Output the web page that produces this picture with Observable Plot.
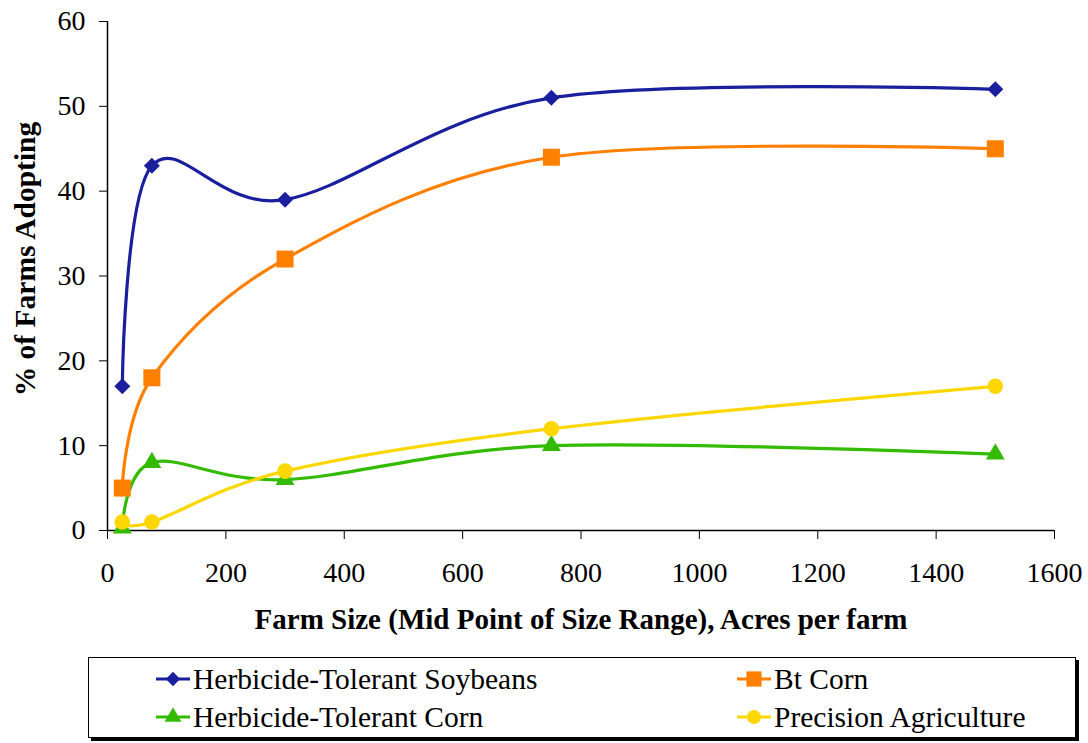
<!DOCTYPE html>
<html style="font-family:'Liberation Serif','Times New Roman',serif"><head><meta charset="utf-8">
<script src="https://cdn.jsdelivr.net/npm/d3@7"></script>
<script src="https://cdn.jsdelivr.net/npm/@observablehq/plot@0.6"></script>
</head><body style="margin:0;background:#fff;font-family:'Liberation Serif','Times New Roman',serif">
<div id="chart"></div>
<div id="legend" style="position:absolute;left:88px;top:657px;width:988px;height:81px;border:1.5px solid #000;box-shadow:3px 3px 0 #000;background:#fff;box-sizing:border-box;font-family:'Liberation Serif','Times New Roman',serif"></div>
<script>
const farmSize = [25, 75, 300, 750, 1500];
const seriesNames = ["Herbicide-Tolerant Soybeans", "Bt Corn", "Herbicide-Tolerant Corn", "Precision Agriculture"];
const soybeans = [17, 43, 39, 51, 52];
const btCorn = [5, 18, 32, 44, 45];
const htCorn = [0.3, 8, 6, 10, 9];
const precision = [1, 1, 7, 12, 17];
const colors = ["#1a1f9e", "#ff8000", "#33bb00", "#ffd700"];
const symbols = ["diamond2", "square", "triangle", "circle"];
const symbolSizes = [7.2, 9.6, 7, 7.8];
const xTicks = [0, 200, 400, 600, 800, 1000, 1200, 1400, 1600];
const yTicks = [0, 10, 20, 30, 40, 50, 60];
const xLabel = "Farm Size (Mid Point of Size Range), Acres per farm";
const yLabel = "% of Farms Adopting";
const FONT = "'Liberation Serif', 'Times New Roman', serif";

const allValues = [soybeans, btCorn, htCorn, precision];
const data = [];
allValues.forEach((vals, i) => vals.forEach((v, j) => data.push({series: seriesNames[i], x: farmSize[j], y: v})));

const marks = [];
seriesNames.forEach((s, i) => {
  const d = data.filter(r => r.series === s);
  marks.push(Plot.line(d, {x: "x", y: "y", stroke: colors[i], strokeWidth: 3.2, curve: "cardinal"}));
});
seriesNames.forEach((s, i) => {
  const d = data.filter(r => r.series === s);
  marks.push(Plot.dot(d, {x: "x", y: "y", fill: colors[i], stroke: "none", symbol: () => symbols[i], r: symbolSizes[i]}));
});

const chart = Plot.plot({
  width: 1088, height: 645,
  marginLeft: 107, marginRight: 34, marginTop: 21, marginBottom: 115,
  style: {background: "#fff", overflow: "visible", fontFamily: "Liberation Serif", fontSize: "28px", color: "#000"},
  x: {domain: [0, 1600], ticks: xTicks},
  y: {domain: [0, 60], ticks: yTicks},
  symbol: {type: "identity"},
  marks: [
    Plot.axisX({ticks: xTicks, tickSize: 9, tickPadding: 23, label: null, tickFormat: d => String(d), fontSize: 28}),
    Plot.axisY({ticks: yTicks, tickSize: 8, tickPadding: 14, label: null, tickFormat: d => String(d), fontSize: 28}),
    Plot.ruleX([0], {strokeWidth: 1.5}),
    Plot.ruleY([0], {strokeWidth: 1.5}),
    ...marks,
    Plot.text([xLabel], {frameAnchor: "bottom", textAnchor: "middle", dy: 98, text: d => d, fontSize: 29, fontWeight: "bold"}),
    Plot.text([yLabel], {frameAnchor: "left", textAnchor: "middle", dx: -82, dy: -17, rotate: -90, text: d => d, fontSize: 29.5, fontWeight: "bold"})
  ]
});
document.getElementById("chart").appendChild(chart);
d3.select(chart).selectAll("text").attr("font-family", "Liberation Serif").style("font-family", FONT).attr("fill", "#000");

const legend = document.getElementById("legend");
const pos = [[67, 5], [648, 5], [67, 43], [648, 43]];
seriesNames.forEach((s, i) => {
  const div = document.createElement("div");
  div.setAttribute("style", "position:absolute;left:" + pos[i][0] + "px;top:" + pos[i][1] + "px;display:flex;align-items:center;white-space:nowrap;font-size:29.5px;line-height:32px;color:#000;");
  div.style.fontFamily = "Liberation Serif";
  const sw = d3.create("svg").attr("width", 34).attr("height", 26).style("margin-right", "3px");
  sw.append("line").attr("x1", 0).attr("x2", 34).attr("y1", 13).attr("y2", 13).attr("stroke", colors[i]).attr("stroke-width", 3);
  const sym = {diamond2: d3.symbolDiamond2, square: d3.symbolSquare, triangle: d3.symbolTriangle, circle: d3.symbolCircle}[symbols[i]];
  sw.append("path").attr("d", d3.symbol(sym, Math.PI * symbolSizes[i] * symbolSizes[i] * 0.8)).attr("transform", "translate(17,13)").attr("fill", colors[i]);
  div.appendChild(sw.node());
  const t = document.createElement("span");
  t.style.fontFamily = "Liberation Serif";
  t.textContent = s;
  div.appendChild(t);
  legend.appendChild(div);
});
</script>
</body></html>
